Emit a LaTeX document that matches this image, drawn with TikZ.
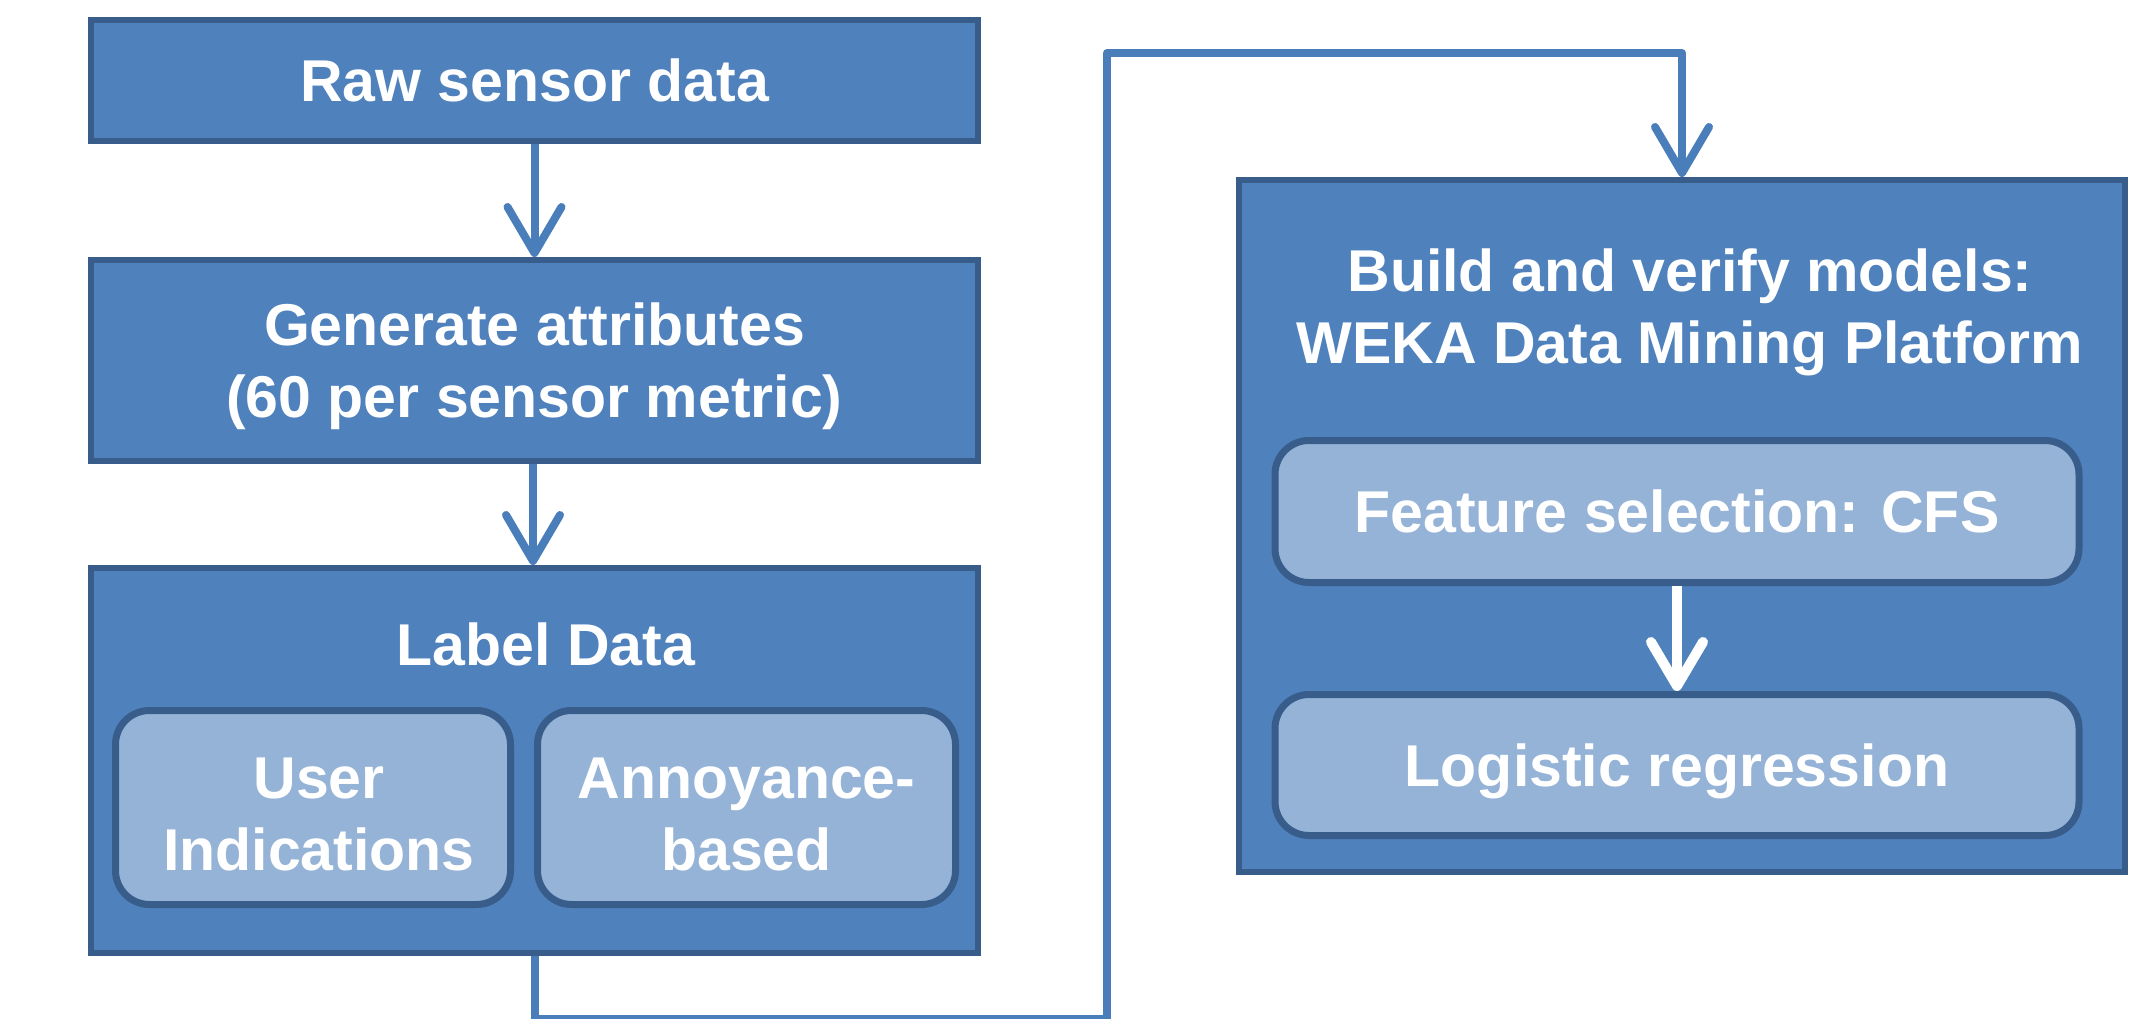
\documentclass[tikz,border=0pt]{standalone}
\usepackage{fontspec}
\setmainfont{Liberation Sans}
\usetikzlibrary{arrows.meta}
\definecolor{boxfill}{HTML}{4F81BD}
\definecolor{boxline}{HTML}{385D8A}
\definecolor{subfill}{HTML}{95B3D7}
\definecolor{flowc}{HTML}{4A7EBB}
\tikzset{
  txt/.style={text=white, font=\fontsize{59}{72}\selectfont\bfseries, align=center},
  bigbox/.style={draw=boxline, fill=boxfill, line width=6pt, rectangle, inner sep=0pt, txt, text depth=0pt},
  subbox/.style={draw=boxline, fill=subfill, line width=7pt, rectangle, rounded corners=34pt, inner sep=0pt, txt, text depth=0pt},
  flow/.style={draw=flowc, line width=8pt, line join=round,
    -{Straight Barb[length=46pt, width=54pt, round]}},
  innerflow/.style={draw=white, line width=10pt,
    -{Straight Barb[length=44pt, width=52pt, round]}},
}
\begin{document}
\begin{tikzpicture}[x=1pt, y=-1pt]
\useasboundingbox (0,0) rectangle (2148,1019);
% left column
\node[bigbox, minimum width=887pt, minimum height=121pt] (raw) at (534.5,80.5) {Raw sensor data};
\node[bigbox, minimum width=887pt, minimum height=201pt] (gen) at (534.5,360.5) {Generate attributes\\(60 per sensor metric)};
\node[bigbox, minimum width=887pt, minimum height=385pt] (label) at (534.5,760.5) {};
\node[txt, anchor=base, inner sep=0pt] (labeltitle) at (546,665) {Label Data};
\node[subbox, minimum width=395pt, minimum height=194pt] (user) at (313,807.5) {};
\node[txt, inner sep=0pt] (usertext) at (319,814) {User\\Indications};
\node[subbox, minimum width=418pt, minimum height=194pt] (annoy) at (746.5,807.5) {};
\node[txt, inner sep=0pt] (annoytext) at (746.5,814) {Annoyance-\\based};
% right column
\node[bigbox, minimum width=886pt, minimum height=692pt] (build) at (1682,526) {};
\node[txt, inner sep=0pt] (buildtitle) at (1690,312) {Build and verify models:\\WEKA Data Mining Platform};
\node[subbox, minimum width=804pt, minimum height=142pt] (feat) at (1677,511.5) {Feature selection: CFS};
\node[subbox, minimum width=804pt, minimum height=141pt] (logit) at (1677,765) {Logistic regression};
% connectors
\draw[flow] (raw.south) -- (gen.north);
\draw[flow] ([xshift=-1.5pt]gen.south) -- ([xshift=-1.5pt]label.north);
\coordinate (c1) at (1107,1019);
\coordinate (c2) at (1107,53);
\draw[flow] (label.south) |- (c1) -- (c2) -| (build.north);
\draw[innerflow] (feat.south) -- (logit.north);
\end{tikzpicture}
\end{document}
